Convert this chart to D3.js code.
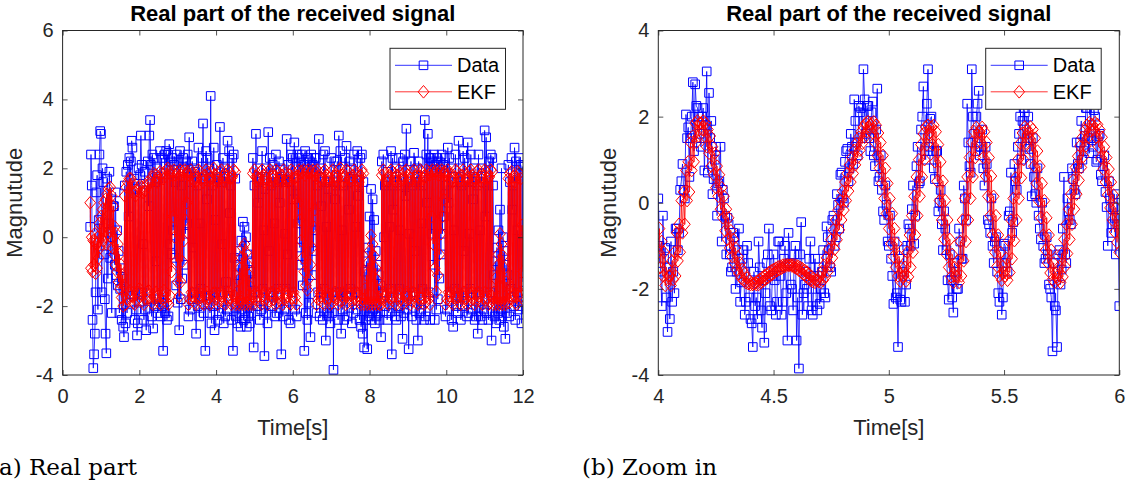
<!DOCTYPE html>
<html>
<head>
<meta charset="utf-8">
<script src="https://cdn.jsdelivr.net/npm/d3@7"></script>
<style>
  body { margin: 0; background: #fff; }
  svg { display: block; }
  text { font-family: "Liberation Sans", Arial, Helvetica, sans-serif; }
  .tick text { font-size: 20px; fill: #262626; }
  .axis-label { font-size: 22px; fill: #262626; }
  .chart-title { font-size: 22px; font-weight: bold; fill: #000; }
  .legend-text { font-size: 20px; fill: #000; }
  .caption { font-family: "DejaVu Serif", serif; font-size: 23px; fill: #000; }
</style>
</head>
<body>
<svg id="chart" width="1137" height="484"></svg>
<script>
// --- Data ---
// panel (a): samples every 0.02 s starting at 0.72 s
const leftStart = 0.72;
const leftStep = 0.02;

const leftData = [
  // 0.72 - 0.94
  0.3, 2.4, 1.5, -2.4, -3.8, -3.4, -2.8, -1.6, 1.3, 1.8, -2.1, 0.5,
  // 0.96 - 1.32
  2.4, 3.08, 3.0, -1.6, 2.0, 1.6, -0.5, -1.8, -2.8, -3.37, 1.7, -1.2, 0.4, 1.9, -0.6, 1.1, -2.2, 0.0, 0.9,
  // 1.34 - 1.60
  0.9, -0.8, 1.3, -1.1, 0.2, -1.4, -0.4, -2.2, -1.5, -0.9, -2.4, -1.2, -2.6, -2.9,
  // 1.62 - 2.84
  1.5, -2.5, 1.9, -2.2, 2.1, 0.6, 2.3, -1.9, 2.2, 2.8,
  2.6, -1.7, 1.7, -2.4, 1.4, -2.1, -2.85, -2.5, 2.0, -1.9,
  1.8, 2.95, 2.1, -1.6, -0.2, -2.4, 1.9, -2.1, -2.7, -1.8,
  2.2, 0.9, 2.95, 3.4, 2.1, -2.3, 2.4, -2.65, 2.3, -2.0,
  1.6, -0.7, 2.0, -2.2, 1.7, -1.8, 2.5, -2.3, 2.3, -2.0,
  -3.3, -1.9, 2.4, -2.2, 2.5, -2.4, 2.4, -2.3, 2.7, -0.2,
  2.2, -0.5,
  // 2.86 - 3.26
  2.3, 0.2, 2.1, -0.6, 1.6, -1.4, 2.4, -1.9, 2.2, -2.7,
  2.5, -1.8, 1.5, -1.2, 2.3, -0.8, 2.0, 0.1, 2.2, 0.4,
  2.4,
  // 3.28 - 4.50
  -2.3, 2.9, -2.1, 1.6, -1.8, 2.2, -0.3, 2.0, -1.6, 1.9,
  -2.8, 1.5, -2.0, 2.6, -2.3, 0.4, -1.5, 2.3, -1.7, 3.3,
  -2.2, 1.7, -3.3, 2.5, 1.1, 2.3, -1.7, 2.0, -2.2, 4.1,
  -2.5, 1.5, -2.0, 2.6, -2.7, 0.5, -1.6, 2.1, -2.4, 1.7,
  -2.2, 3.2, -1.6, 1.6, -0.2, 2.3, -2.5, 2.0, -2.3, -1.3,
  -2.1, 2.8, -1.7, 2.5, 0.7, 1.5, -2.4, 2.3, -3.3, 2.4,
  -0.6, 1.7,
  // 4.52 - 4.94
  -2.3, -1.1, -2.5, -0.8, -2.2, -0.4, -2.6, -0.1, -2.1, 0.45,
  -2.4, 0.3, -2.2, 0.0, -2.6, -0.5, -2.3, -0.7, -2.5, -1.0,
  -2.2, -1.3,
  // 4.96 - 6.12
  2.3, -3.2, 1.5, -1.6, 3.0, -2.0, 2.0, 1.0, 1.6, -2.4,
  1.7, -2.1, 2.5, -1.5, 0.2, -3.45, 1.4, -2.2, 2.0, -2.5,
  3.05, -0.4, 2.3, -1.6, 1.5, -2.0, 2.1, -1.7, 0.4, -2.3,
  2.4, -2.2, 1.6, -1.5, 2.2, 1.0, 2.0, -3.4, 1.7, -2.3,
  1.6, -2.1, 0.1, -1.5, 2.85, -0.5, 2.1, -2.4, 1.6, -2.5,
  2.4, -1.6, 2.3, 1.1, 2.75, -2.1, 1.5, -2.3, 2.4,
  // 6.14 - 6.58
  0.4, 2.3, -0.3, 2.2, -0.8, 2.4, -1.4, 2.1, -3.3, 2.5,
  -2.2, 2.0, -2.4, 2.3, -1.9, 2.2, -2.9, 2.4, -1.1, 2.1,
  -0.4, 2.3, 0.2,
  // 6.60 - 7.84
  2.3, -2.2, 1.5, -1.6, 2.85, -2.3, 2.0, 0.9, 1.6, -2.4,
  2.4, -1.5, 2.5, -3.0, 0.3, -2.2, 1.4, -2.3, 1.6, -2.5,
  2.3, -2.2, 1.6, -3.85, 2.2, 1.1, 1.5, -1.6, 2.2, -2.4,
  2.95, -1.6, 2.5, -2.8, 0.2, -2.1, 1.5, -2.4, 2.3, -1.7,
  2.65, -2.3, 1.6, 0.8, 2.2, -1.5, 2.0, -2.5, 1.7, -2.2,
  2.4, -1.6, 0.3, -2.1, 2.5, 1.2, 1.5, -2.4, 2.3, -2.6,
  2.4, -2.8, 1.6,
  // 7.86 - 8.28
  -3.2, -1.0, -2.4, -0.7, -3.25, -0.3, -2.3, 0.6, -2.2, 1.4,
  -2.4, 1.1, -2.1, 0.5, -2.5, -0.4, -2.3, -0.8, -2.2, -1.1,
  -2.4, -1.4,
  // 8.30 - 9.58
  -2.9, 2.2, -1.6, 2.4, 0.0, 1.5, -2.0, 1.6, -2.4, 1.9,
  -2.2, 0.3, -1.5, 2.5, -3.4, 2.3, 0.8, 1.5, -2.3, 2.0,
  -2.4, 1.6, -2.0, 2.3, -1.5, 0.2, -2.3, 1.5, -2.95, 2.2,
  -2.2, 2.4, 1.2, 3.15, -2.1, 1.6, -3.25, 0.1, -1.7, 2.2,
  -2.3, 1.5, -1.6, 2.45, -0.4, 1.6, -2.4, 2.0, -3.0, 2.2,
  -2.2, 1.6, -2.1, 0.4, -1.5, 1.5, -2.4, 3.4, -2.3, 2.4,
  1.0, 3.0, -1.6, 2.3, -2.4,
  // 9.60 - 9.96
  2.3, 0.1, 2.2, -0.8, 2.4, -2.4, 2.1, -2.1, 2.3, -1.8,
  2.2, -1.2, 2.0, -0.5, 2.4, 0.1, 2.1, 0.6, 2.3,
  // 9.98 - 11.20
  -2.3, 1.5, -2.1, 2.6, 1.0, 2.3, -1.6, 2.0, -2.4, 1.6,
  -2.6, 0.2, -1.5, 2.4, -2.0, 1.6, -2.2, 2.8, -1.7, 2.0,
  -2.4, 1.5, -2.0, 2.5, -0.4, 2.3, -1.6, 1.6, -2.3, 2.75,
  -2.2, 0.1, -1.5, 2.4, -2.1, 1.6, 1.1, 2.0, -2.4, 1.7,
  -2.3, 1.5, -2.8, 2.4, -1.6, 0.2, -2.3, 2.0, -2.4, 1.6,
  -2.1, 3.1, 0.6, 2.9, -2.2, 1.5, -2.4, 2.2, -1.6, 2.4,
  -3.0, 2.3,
  // 11.22 - 11.60
  1.5, -1.1, -2.3, -0.7, -2.5, -0.3, -2.2, 0.2, -2.4, 0.8,
  -2.1, 2.0, -2.3, 0.0, -2.6, -0.4, -2.95, -0.8, -2.2, -1.1,
  // 11.62 - 12.00
  2.1, -2.3, 1.6, -1.5, 2.3, 0.8, 1.5, -2.0, 2.6, -2.4,
  2.2, -1.6, 0.2, -2.1, 2.3, -2.0, 2.1,
  -2.5, 2.05, -1.3
];

const leftEkf = [
  // 0.72 - 0.94
  1.0, -0.9, 0.0, -1.0, -0.1, -0.8, 0.1, -1.05, -0.2, -0.9, 0.0, -0.6,
  // 0.96 - 1.32
  0.4, -0.3, 0.6, -0.2, 0.8, -0.1, 1.0, 0.0, 1.1, -0.2, 1.25, 0.1, 1.4, 0.2, 1.45, 0.0, 1.2, -0.3, 0.9,
  // 1.34 - 1.60
  -0.5, 0.3, -0.8, 0.1, -1.0, -0.2, -1.3, -0.5, -1.5, -0.8, -1.75, -1.1, -2.0, -1.4,
  // 1.62 - 2.84
  1.2, -1.95, 1.45, -1.8, 1.6, -1.6, 1.7, -1.55, 1.7, -1.7,
  1.55, -1.9, 1.3, -1.95, 1.2, -1.85, 1.35, -1.6, 1.45, -1.5,
  1.5, -1.65, 1.45, -1.85, 1.3, -1.95, 1.35, -1.8, 1.5, -1.6,
  1.6, -1.55, 1.55, -1.75, 1.6, -1.9, 1.75, -1.95, 1.85, -1.75,
  1.8, -1.6, 1.6, -1.7, 1.75, -1.9, 1.9, -1.95, 1.85, -1.7,
  1.7, -1.55, 1.85, -1.75, 1.95, -1.9, 2.0, -1.95, 1.9, -1.7,
  1.8, -1.0,
  // 2.86 - 3.26
  1.9, 0.6, 1.95, 0.0, 1.8, -0.7, 1.85, -1.3, 1.9, -1.72,
  1.95, -1.3, 1.8, -0.7, 1.9, -0.1, 1.95, 0.5, 1.85, 1.0,
  1.9,
  // 3.28 - 4.50
  -1.95, 1.8, -1.8, 1.95, -1.6, 1.85, -1.7, 1.65, -1.9, 1.6,
  -1.95, 1.75, -1.75, 1.95, -1.6, 1.9, -1.75, 1.7, -1.9, 1.6,
  -1.95, 1.8, -1.7, 1.95, -1.6, 1.85, -1.8, 1.65, -1.95, 1.7,
  -1.9, 1.9, -1.65, 2.0, -1.6, 1.8, -1.8, 1.6, -1.95, 1.7,
  -1.85, 1.9, -1.6, 1.95, -1.7, 1.75, -1.9, 1.6, -1.95, 1.75,
  -1.75, 1.95, -1.6, 1.9, -1.75, 1.7, -1.95, 1.75, -1.9, 1.95,
  -1.7, 1.9,
  // 4.52 - 4.94
  -1.95, -1.6, -1.9, -1.25, -1.95, -0.9, -1.85, -0.6, -1.95, -0.3,
  -1.9, -0.2, -1.95, -0.45, -1.9, -0.8, -1.95, -1.1, -1.85, -1.45,
  -1.95, -1.7,
  // 4.96 - 6.12
  1.85, -1.95, 1.95, -1.8, 1.75, -1.6, 1.6, -1.7, 1.7, -1.9,
  1.9, -1.95, 1.95, -1.7, 1.8, -1.6, 1.6, -1.8, 1.7, -1.95,
  1.9, -1.85, 1.95, -1.65, 1.75, -1.6, 1.6, -1.8, 1.75, -1.95,
  1.95, -1.9, 1.9, -1.65, 1.7, -1.6, 1.6, -1.85, 1.8, -1.95,
  1.95, -1.8, 1.85, -1.6, 1.65, -1.7, 1.6, -1.9, 1.8, -1.95,
  1.95, -1.75, 1.9, -1.6, 1.7, -1.75, 1.75, -1.95, 1.9,
  // 6.14 - 6.58
  1.0, 1.95, 0.5, 1.85, -0.1, 1.9, -0.6, 1.95, -1.0, 1.8,
  -1.4, 1.9, -1.53, 1.95, -1.2, 1.85, -0.8, 1.9, -0.3, 1.95,
  0.3, 1.8, 0.8,
  // 6.60 - 7.84
  1.9, -1.95, 1.95, -1.8, 1.75, -1.6, 1.6, -1.7, 1.7, -1.9,
  1.9, -1.95, 1.95, -1.75, 1.8, -1.6, 1.6, -1.75, 1.7, -1.95,
  1.9, -1.9, 1.95, -1.7, 1.75, -1.6, 1.6, -1.8, 1.75, -1.95,
  1.95, -1.85, 2.0, -1.65, 1.8, -1.6, 1.6, -1.8, 1.75, -1.95,
  1.95, -1.9, 1.9, -1.65, 1.7, -1.6, 1.6, -1.85, 1.8, -1.95,
  1.95, -1.8, 1.85, -1.6, 1.65, -1.7, 1.6, -1.9, 1.8, -1.95,
  1.95, -1.8, 1.85,
  // 7.86 - 8.28
  -1.95, -1.5, -1.9, -1.1, -1.95, -0.75, -1.9, -0.4, -1.95, 0.05,
  -1.9, -0.2, -1.95, -0.55, -1.9, -0.9, -1.95, -1.25, -1.9, -1.55,
  -1.95, -1.8,
  // 8.30 - 9.58
  -1.95, 1.8, -1.8, 1.95, -1.6, 1.85, -1.7, 1.65, -1.9, 1.6,
  -1.95, 1.75, -1.75, 1.95, -1.6, 1.9, -1.75, 1.7, -1.9, 1.6,
  -1.95, 1.8, -1.7, 1.95, -1.6, 1.85, -1.8, 1.65, -1.95, 1.7,
  -1.9, 1.9, -1.65, 1.95, -1.6, 1.8, -1.8, 1.6, -1.95, 1.7,
  -1.85, 1.9, -1.6, 1.95, -1.7, 1.75, -1.9, 1.6, -1.95, 1.75,
  -1.75, 1.95, -1.6, 1.9, -1.75, 1.7, -1.95, 1.75, -1.9, 1.95,
  -1.7, 1.9, -1.8, 1.8, -1.95,
  // 9.60 - 9.96
  1.9, 0.6, 1.95, -0.2, 1.85, -0.9, 1.9, -1.58, 1.95, -1.1,
  1.8, -0.5, 1.9, 0.1, 1.95, 0.6, 1.85, 1.1, 1.9,
  // 9.98 - 11.20
  -1.95, 1.8, -1.8, 1.95, -1.6, 1.85, -1.7, 1.65, -1.9, 1.6,
  -1.95, 1.75, -1.75, 1.95, -1.6, 1.9, -1.75, 1.7, -1.9, 1.6,
  -1.95, 1.8, -1.7, 1.95, -1.6, 1.85, -1.8, 1.65, -1.95, 1.7,
  -1.9, 1.9, -1.65, 1.95, -1.6, 1.8, -1.8, 1.6, -1.95, 1.7,
  -1.85, 1.9, -1.6, 1.95, -1.7, 1.75, -1.9, 1.6, -1.95, 1.75,
  -1.75, 1.95, -1.6, 1.9, -1.75, 1.7, -1.95, 1.75, -1.9, 1.95,
  -1.7, 1.9,
  // 11.22 - 11.60
  -1.95, -1.6, -1.9, -1.2, -1.95, -0.85, -1.9, -0.5, -1.95, 0.1,
  -1.9, -0.2, -1.95, -0.55, -1.9, -0.9, -1.95, -1.3, -1.9, -1.65,
  // 11.62 - 12.00
  1.7, -1.9, 1.85, -1.75, 1.9, -1.6, 1.75, -1.7, 1.6, -1.9,
  1.75, -1.95, 1.9, -1.7, 1.85, -1.6, 1.7,
  -1.7, 0.35, -1.0
];

// panel (b): samples every 0.005 s from 4.00 s to 6.00 s
const zoomStart = 4.0;
const zoomStep = 0.005;

const zoomData = [
  0.10, -1.00, -1.60, -2.40, -0.30, -1.30, -1.05, -2.20, -3.00, -1.50,
  -2.70, -0.90, -2.30, -1.60, -2.10, -0.60, -0.60, -1.10, -0.70, 0.30,
  0.50, 0.90, 0.30, 0.10, 2.05, 1.50, 1.75, 0.60, 1.50, 2.00,
  2.80, 1.20, 2.75, 2.25, 2.20, 2.00, 1.60, 1.30, 2.00, 2.20,
  0.75, 1.80, 3.05, 0.70, 2.55, 1.50, 1.90, 0.20, 0.55, 1.00,
  1.30, -0.30, 0.45, 0.50, 1.30, -0.90, 0.30, 0.10, -0.30, -1.20,
  -0.35, -0.50, -1.20, -1.60, -1.50, -0.70, -0.80, -2.00, -1.60, -1.10,
  -0.60, -2.30, -1.85, -1.30, -1.10, -2.60, -2.30, -1.00, -1.40, -2.20,
  -2.70, -2.80, -3.35, -1.60, -2.40, -2.20, -2.70, -0.90, -1.50, -2.50,
  -2.90, -1.80, -3.25, -2.10, -1.40, -1.20, -0.60, -2.40, -2.50, -1.70,
  -1.20, -1.80, -2.60, -2.30, -0.90, -0.90, -1.70, -2.60, -2.30, -1.30,
  -1.00, -2.10, -3.20, -0.70, -1.40, -1.90, -2.00, -2.50, -1.20, -1.00,
  -3.20, -2.20, -3.85, -1.20, -0.45, -2.60, -2.10, -1.90, -1.60, -2.00,
  -2.40, -1.30, -0.90, -2.50, -2.60, -1.70, -1.30, -2.20, -2.50, -1.50,
  -2.35, -2.00, -1.60, -1.10, -2.10, -2.20, -0.55, -0.80, -1.10, -1.50,
  -1.60, -0.40, -0.30, -1.00, -0.80, 0.20, -0.05, -0.60, 0.65, 0.70,
  0.10, 0.00, 0.95, 1.20, 1.25, 0.50, 0.80, 1.60, 1.30, 0.90,
  2.40, 1.90, 1.40, 1.10, 2.25, 2.10, 2.20, 1.50, 3.10, 2.40,
  1.60, 2.25, 2.25, 1.50, 1.20, 2.10, 2.35, 1.10, 0.85, 1.70,
  2.65, 0.50, 0.60, 1.10, 0.30, -0.20, -0.40, 0.40, -0.05, -0.90,
  -1.00, -0.30, -1.30, -1.70, -2.35, -0.90, -2.20, -2.10, -3.35, -1.30,
  -2.25, -2.30, -1.60, -1.10, -2.30, -1.90, -1.00, -0.50, -0.60, -1.00,
  -0.15, 0.40, -0.95, -0.30, 0.85, 1.30, 0.45, 0.50, 1.70, 2.00,
  2.70, 1.20, 1.00, 2.30, 3.10, 1.30, 1.95, 2.00, 1.20, 0.80,
  0.55, 1.20, 1.20, -0.20, 0.00, 0.30, -0.50, -1.10, -0.20, -0.60,
  -1.10, -1.80, -2.25, -1.20, -1.80, -2.20, -2.55, -1.40, -1.60, -2.00,
  -2.00, -0.60, -0.90, -1.30, -1.30, 0.40, 0.10, -0.40, 2.30, 1.40,
  0.85, 0.70, 3.10, 2.00, 1.60, 1.20, 2.00, 2.30, 2.60, 1.10,
  1.30, 1.70, 0.80, 0.40, 1.30, 0.90, -0.40, -0.50, -0.70, 0.10,
  -1.00, -1.40, -0.90, -0.80, -1.60, -2.10, -2.30, -1.20, -2.60, -2.20,
  -0.95, -1.00, -1.40, -1.60, -0.30, -0.20, 0.70, -0.70, -0.45, 0.90,
  0.50, 0.30, 1.30, 1.60, 2.00, 1.00, 1.90, 2.20, 2.10, 1.30,
  1.50, 2.00, 1.25, 0.90, 0.15, 1.50, 0.60, 0.20, 0.00, 0.80,
  -0.30, -0.60, -0.85, 0.00, -1.00, -1.40, -1.30, -0.80, -1.20, -1.90,
  -2.00, -2.20, -3.45, -1.40, -2.40, -2.50, -3.35, -1.20, -1.10, -1.90,
  -1.55, -0.60, 0.60, -1.20, -1.40, 0.10, -0.20, -0.40, -0.50, 0.80,
  0.55, 0.30, 0.20, 1.40, 0.90, 0.80, 1.40, 1.90, 1.00, 1.20,
  1.55, 2.20, 2.20, 1.50, 1.15, 2.30, 1.45, 1.30, 2.15, 2.00,
  0.95, 1.00, 1.55, 1.60, 0.65, 0.50, 0.85, 1.10, 0.25, -0.10,
  -1.00, 0.50, 0.10, -0.70, -0.50, -0.10, -0.35, -1.20, 0.20, -0.50,
  -2.40
];

const zoomEkf = [
  -1.15, -0.60, -1.50, -0.90, -1.70, -1.15, -1.92, -1.50, -1.78, -1.70,
  -1.70, -1.92, -1.35, -1.78, -1.15, -1.70, -0.70, -1.35, -0.50, -1.15,
  0.05, -0.70, 0.25, -0.50, 0.75, 0.05, 0.95, 0.25, 1.40, 0.75,
  1.55, 0.95, 1.85, 1.40, 1.90, 1.55, 1.85, 1.85, 1.70, 1.90,
  1.55, 1.85, 1.30, 1.70, 1.15, 1.55, 0.85, 1.30, 0.65, 1.15,
  0.35, 0.85, 0.15, 0.65, -0.15, 0.35, -0.35, 0.15, -0.65, -0.15,
  -0.85, -0.35, -1.05, -0.65, -1.25, -0.85, -1.40, -1.05, -1.55, -1.25,
  -1.65, -1.40, -1.75, -1.55, -1.80, -1.65, -1.86, -1.75, -1.88, -1.80,
  -1.90, -1.86, -1.90, -1.88, -1.86, -1.90, -1.82, -1.90, -1.78, -1.86,
  -1.74, -1.82, -1.70, -1.78, -1.66, -1.74, -1.62, -1.70, -1.58, -1.66,
  -1.55, -1.62, -1.52, -1.58, -1.49, -1.55, -1.47, -1.52, -1.45, -1.49,
  -1.44, -1.47, -1.44, -1.45, -1.45, -1.44, -1.47, -1.44, -1.50, -1.45,
  -1.53, -1.47, -1.57, -1.50, -1.61, -1.53, -1.66, -1.57, -1.71, -1.61,
  -1.76, -1.66, -1.80, -1.71, -1.83, -1.76, -1.85, -1.80, -1.80, -1.83,
  -1.72, -1.85, -1.60, -1.80, -1.45, -1.72, -1.28, -1.60, -1.08, -1.45,
  -0.86, -1.28, -0.63, -1.08, -0.40, -0.86, -0.17, -0.63, 0.05, -0.40,
  0.27, -0.17, 0.48, 0.05, 0.68, 0.27, 0.88, 0.48, 1.05, 0.68,
  1.22, 0.88, 1.38, 1.05, 1.52, 1.22, 1.65, 1.38, 1.76, 1.52,
  1.85, 1.65, 1.88, 1.76, 1.80, 1.85, 1.62, 1.88, 1.40, 1.80,
  1.10, 1.62, 0.80, 1.40, 0.45, 1.10, 0.10, 0.80, -0.25, 0.45,
  -0.60, 0.10, -0.95, -0.25, -1.25, -0.60, -1.50, -0.95, -1.70, -1.25,
  -1.82, -1.50, -1.72, -1.70, -1.50, -1.82, -1.15, -1.72, -0.75, -1.50,
  -0.30, -1.15, 0.15, -0.75, 0.60, -0.30, 1.00, 0.15, 1.35, 0.60,
  1.60, 1.00, 1.76, 1.35, 1.80, 1.60, 1.65, 1.76, 1.35, 1.80,
  0.95, 1.65, 0.50, 1.35, 0.05, 0.95, -0.40, 0.50, -0.85, 0.05,
  -1.20, -0.40, -1.50, -0.85, -1.72, -1.20, -1.85, -1.50, -1.70, -1.72,
  -1.35, -1.85, -0.90, -1.70, -0.40, -1.35, 0.10, -0.90, 0.60, -0.40,
  1.05, 0.10, 1.40, 0.60, 1.65, 1.05, 1.75, 1.40, 1.65, 1.65,
  1.40, 1.75, 1.05, 1.65, 0.62, 1.40, 0.15, 1.05, -0.30, 0.62,
  -0.75, 0.15, -1.15, -0.30, -1.48, -0.75, -1.70, -1.15, -1.80, -1.48,
  -1.62, -1.70, -1.30, -1.80, -0.88, -1.62, -0.40, -1.30, 0.10, -0.88,
  0.58, -0.40, 1.00, 0.10, 1.38, 0.58, 1.62, 1.00, 1.76, 1.38,
  1.70, 1.62, 1.50, 1.76, 1.20, 1.70, 0.85, 1.50, 0.45, 1.20,
  0.05, 0.85, -0.35, 0.45, -0.75, 0.05, -1.10, -0.35, -1.40, -0.75,
  -1.63, -1.10, -1.78, -1.40, -1.85, -1.63, -1.72, -1.78, -1.48, -1.85,
  -1.18, -1.72, -0.85, -1.48, -0.50, -1.18, -0.15, -0.85, 0.20, -0.50,
  0.52, -0.15, 0.82, 0.20, 1.08, 0.52, 1.32, 0.82, 1.52, 1.08,
  1.68, 1.32, 1.80, 1.52, 1.86, 1.68, 1.82, 1.80, 1.70, 1.86,
  1.52, 1.82, 1.30, 1.70, 1.05, 1.52, 0.78, 1.30, 0.48, 1.05,
  0.18, 0.78, -0.12, 0.48, -0.40, 0.18, -0.68, -0.12, -0.92, -0.40,
  -1.15
];

// tick labels and legend names
const leftXTicks = [0, 2, 4, 6, 8, 10, 12];
const leftYTicks = [-4, -2, 0, 2, 4, 6];
const zoomXTicks = [4, 4.5, 5, 5.5, 6];
const zoomYTicks = [-4, -2, 0, 2, 4];
const seriesNames = ["Data", "EKF"];

// --- Layout / style ---
const BLUE = "#0000ff";
const RED = "#ff0000";
const AXIS = "#262626";
const TICK = 5;

const panels = [
  {
    id: "a", left: 62.6, right: 523, top: 30.5, bottom: 375,
    xDomain: [0, 12], yDomain: [-4, 6], xTicks: leftXTicks, yTicks: leftYTicks,
    t0: leftStart, dt: leftStep, data: leftData, ekf: leftEkf, ekfWidth: 1.1,
    caption: "(a) Real part", captionX: -10, ylabelX: 22, legendX: 390
  },
  {
    id: "b", left: 658.3, right: 1119.3, top: 30.5, bottom: 375,
    xDomain: [4, 6], yDomain: [-4, 4], xTicks: zoomXTicks, yTicks: zoomYTicks,
    t0: zoomStart, dt: zoomStep, data: zoomData, ekf: zoomEkf, ekfWidth: 0.8,
    caption: "(b) Zoom in", captionX: 582, ylabelX: 616, legendX: 985.7
  }
];

const svg = d3.select("#chart");
const defs = svg.append("defs");

const squarePath = "M-4.3,-4.3H4.3V4.3H-4.3Z";
const diamondPath = "M0,-6.3L5.4,0L0,6.3L-5.4,0Z";

panels.forEach((p) => {
  const x = d3.scaleLinear().domain(p.xDomain).range([p.left, p.right]);
  const y = d3.scaleLinear().domain(p.yDomain).range([p.bottom, p.top]);
  const g = svg.append("g");

  defs.append("clipPath").attr("id", "clip-" + p.id)
    .append("rect")
    .attr("x", p.left).attr("y", p.top)
    .attr("width", p.right - p.left).attr("height", p.bottom - p.top);

  const plot = g.append("g").attr("clip-path", `url(#clip-${p.id})`);

  const toPoints = (vals) => vals.map((v, i) => ({ t: p.t0 + i * p.dt, v: v }));
  const dataPts = toPoints(p.data);
  const ekfPts = toPoints(p.ekf);

  // each step drawn as its own segment so the dense zig-zag fills properly
  const drawSegments = (pts, color, width) => {
    plot.append("g").selectAll("line")
      .data(d3.pairs(pts)).join("line")
      .attr("x1", (d) => x(d[0].t)).attr("y1", (d) => y(d[0].v))
      .attr("x2", (d) => x(d[1].t)).attr("y2", (d) => y(d[1].v))
      .attr("stroke", color).attr("stroke-width", width);
  };
  const drawMarkers = (pts, shape, color) => {
    plot.append("g").selectAll("path")
      .data(pts).join("path")
      .attr("d", shape)
      .attr("transform", (d) => `translate(${x(d.t)},${y(d.v)})`)
      .attr("fill", "none").attr("stroke", color).attr("stroke-width", 1);
  };

  drawSegments(dataPts, BLUE, 0.8);
  drawMarkers(dataPts, squarePath, BLUE);
  drawSegments(ekfPts, RED, p.ekfWidth);
  drawMarkers(ekfPts, diamondPath, RED);

  // Axes, ticks inward on all four sides
  const fmt = (d) => String(d);
  const styleAxis = (sel) => {
    sel.attr("font-family", null).attr("font-size", null);
    sel.select(".domain").remove();
    sel.selectAll(".tick line").attr("stroke", AXIS).attr("stroke-width", 0.8);
  };
  g.append("g").attr("transform", `translate(0,${p.bottom})`)
    .call(d3.axisBottom(x).tickValues(p.xTicks).tickFormat(fmt).tickSize(-TICK).tickPadding(14))
    .call(styleAxis);
  g.append("g").attr("transform", `translate(0,${p.top})`)
    .call(d3.axisTop(x).tickValues(p.xTicks).tickFormat("").tickSize(-TICK))
    .call(styleAxis);
  g.append("g").attr("transform", `translate(${p.left},0)`)
    .call(d3.axisLeft(y).tickValues(p.yTicks).tickFormat(fmt).tickSize(-TICK).tickPadding(9))
    .call(styleAxis);
  g.append("g").attr("transform", `translate(${p.right},0)`)
    .call(d3.axisRight(y).tickValues(p.yTicks).tickFormat("").tickSize(-TICK))
    .call(styleAxis);

  g.append("rect")
    .attr("x", p.left).attr("y", p.top)
    .attr("width", p.right - p.left).attr("height", p.bottom - p.top)
    .attr("fill", "none").attr("stroke", AXIS).attr("stroke-width", 1);

  // Title and axis labels
  const cx = (p.left + p.right) / 2;
  g.append("text").attr("class", "chart-title")
    .attr("x", cx).attr("y", 21).attr("text-anchor", "middle")
    .text("Real part of the received signal");
  g.append("text").attr("class", "axis-label")
    .attr("x", cx).attr("y", 435).attr("text-anchor", "middle")
    .text("Time[s]");
  g.append("text").attr("class", "axis-label")
    .attr("transform", `translate(${p.ylabelX},${(p.top + p.bottom) / 2}) rotate(-90)`)
    .attr("text-anchor", "middle")
    .text("Magnutude");

  // Legend
  const lg = g.append("g").attr("transform", `translate(${p.legendX},48.3)`);
  lg.append("rect").attr("width", 115.5).attr("height", 61)
    .attr("fill", "#fff").attr("stroke", AXIS).attr("stroke-width", 1);
  const entries = [
    { name: seriesNames[0], color: BLUE, marker: squarePath, y: 17 },
    { name: seriesNames[1], color: RED, marker: diamondPath, y: 43.5 }
  ];
  entries.forEach((e) => {
    lg.append("line").attr("x1", 5).attr("x2", 62).attr("y1", e.y).attr("y2", e.y)
      .attr("stroke", e.color).attr("stroke-width", 0.8);
    lg.append("path").attr("d", e.marker)
      .attr("transform", `translate(33.5,${e.y})`)
      .attr("fill", "none").attr("stroke", e.color).attr("stroke-width", 1);
    lg.append("text").attr("class", "legend-text")
      .attr("x", 67).attr("y", e.y).attr("dy", "0.35em")
      .text(e.name);
  });

  // Sub-figure caption
  svg.append("text").attr("class", "caption")
    .attr("x", p.captionX).attr("y", 475)
    .text(p.caption);
});
</script>
</body>
</html>
